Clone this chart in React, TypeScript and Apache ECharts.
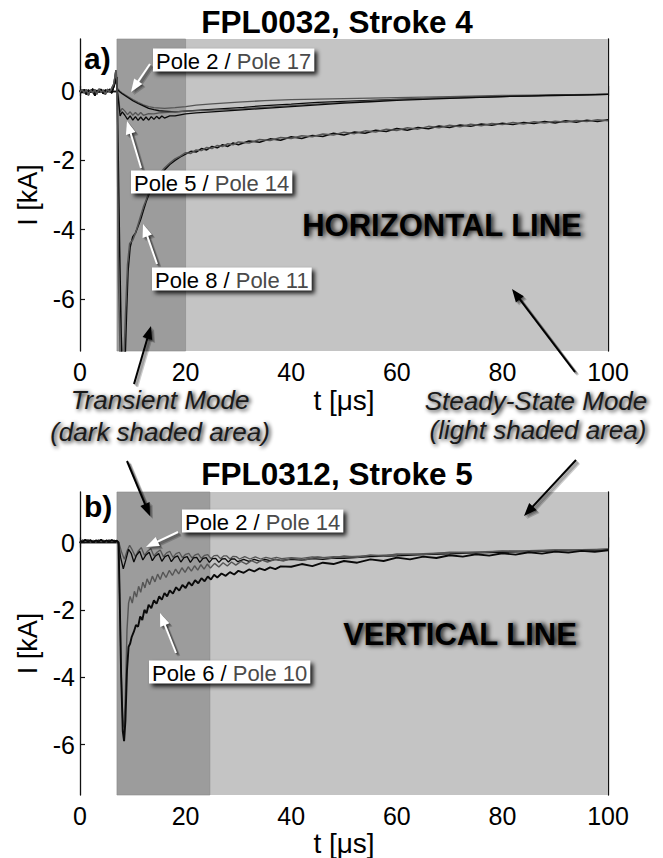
import { useEffect, useRef } from "react";
import * as echarts from "echarts";

const FONT = '"Liberation Sans", Arial, Helvetica, sans-serif';

// ---------- axes ----------
const xMin = 0;
const xMax = 100;
const xInterval = 20;
const yMin = -7.5;
const yMax = 1.5;
const yTicks = [-6, -4, -2, 0];

const titleA = "FPL0032, Stroke 4";
const titleB = "FPL0312, Stroke 5";
const xName = "t [μs]";
const yName = "I [kA]";

// shaded modes [start, end] in μs
const transientA = [7, 20];
const transientB = [7, 24.6];

// ---------- panel a data ----------
const preA_black = [[0,0.02],[0.4,-0.05],[0.8,0.04],[1.2,-0.1],[1.6,0.03],[2,-0.04],[2.4,0.06],[2.8,-0.14],[3.2,0.02],[3.6,-0.03],[4,0.05],[4.4,-0.08],[4.8,0.03],[5.2,-0.02],[5.6,0.05],[6,-0.06],[6.4,0.12],[6.8,0.35]];
const preA_gray = [[0,-0.03],[0.4,0.04],[0.8,-0.06],[1.2,0.05],[1.6,-0.12],[2,0.03],[2.4,-0.05],[2.8,0.04],[3.2,-0.09],[3.6,0.06],[4,-0.04],[4.4,0.03],[4.8,-0.1],[5.2,0.05],[5.6,-0.03],[6,0.08],[6.4,0.2],[6.8,0.6]];

const aPole2 = [[7,0.05],[7.5,-0.02],[8,-0.08],[9,-0.18],[10,-0.28],[11,-0.36],[12,-0.43],[13,-0.5],[14,-0.54],[15,-0.57],[16,-0.58],[18,-0.6],[20,-0.58],[22,-0.56],[25,-0.53],[28,-0.5],[31,-0.47],[35,-0.42],[40,-0.38],[45,-0.33],[50,-0.3],[55,-0.27],[60,-0.24],[65,-0.22],[70,-0.2],[75,-0.18],[80,-0.16],[85,-0.14],[90,-0.12],[95,-0.11],[100,-0.1]];
const aPole17 = [[7,0.1],[7.5,0],[8,-0.06],[9,-0.15],[10,-0.25],[11,-0.33],[12,-0.4],[13,-0.45],[14,-0.48],[16,-0.5],[18,-0.48],[20,-0.45],[22,-0.41],[25,-0.37],[30,-0.32],[35,-0.28],[40,-0.25],[50,-0.22],[60,-0.19],[70,-0.16],[80,-0.13],[90,-0.11],[100,-0.09]];
const aPole5 = [[7,0.1],[7.3,-0.3],[7.6,-0.72],[8,-0.6],[8.5,-0.7],[9,-0.82],[9.5,-0.72],[10,-0.84],[10.5,-0.74],[11,-0.85],[11.5,-0.75],[12,-0.85],[12.5,-0.75],[13,-0.84],[13.5,-0.74],[14,-0.82],[14.5,-0.73],[15,-0.8],[15.5,-0.72],[16,-0.78],[17,-0.72],[18,-0.72],[20,-0.66],[22,-0.63],[25,-0.6],[30,-0.55],[35,-0.5],[40,-0.45],[45,-0.4],[50,-0.35],[55,-0.31],[60,-0.27],[70,-0.21],[80,-0.16],[90,-0.13],[100,-0.1]];
const aPole14 = [[7,0.05],[7.3,-0.2],[7.6,-0.6],[8,-0.5],[8.5,-0.58],[9,-0.68],[9.5,-0.6],[10,-0.7],[10.5,-0.62],[11,-0.7],[11.5,-0.62],[12,-0.7],[13,-0.65],[14,-0.66],[15,-0.63],[16,-0.62],[18,-0.6],[20,-0.58],[25,-0.55],[30,-0.52],[35,-0.47],[40,-0.42],[50,-0.33],[60,-0.25],[70,-0.19],[80,-0.15],[90,-0.12],[100,-0.1]];
const aPole8 = [[7,0.4],[7.2,-1.5],[7.5,-4.5],[7.8,-7],[8.1,-8.3],[8.5,-8],[8.8,-6.5],[9.1,-5.2],[9.5,-4.5],[10,-4.2],[10.5,-4.1],[11,-3.9],[11.5,-3.7],[12,-3.45],[12.5,-3.2],[13,-3.0],[13.5,-2.8],[14,-2.65],[15,-2.45],[16,-2.28],[17,-2.12],[18,-2.0],[19,-1.9],[20,-1.82],[21,-1.74],[22,-1.76],[23,-1.66],[24,-1.7],[25,-1.6],[26,-1.64],[27,-1.55],[28,-1.6],[29,-1.5],[30,-1.55],[32,-1.44],[34,-1.48],[36,-1.38],[38,-1.42],[40,-1.32],[42,-1.37],[44,-1.28],[46,-1.31],[48,-1.22],[50,-1.27],[52,-1.18],[54,-1.22],[56,-1.13],[58,-1.17],[60,-1.08],[62,-1.13],[64,-1.05],[66,-1.09],[68,-1.01],[70,-1.05],[72,-0.98],[74,-1.02],[76,-0.95],[78,-0.99],[80,-0.93],[82,-0.97],[84,-0.91],[86,-0.94],[88,-0.88],[90,-0.92],[92,-0.86],[94,-0.9],[96,-0.84],[98,-0.88],[100,-0.83]];
const aPole11 = [[7,0.3],[7.1,-2],[7.3,-5.5],[7.6,-7.6],[7.9,-8],[8.3,-7.8],[8.6,-6.5],[9,-5],[9.4,-4.4],[10,-4.3],[10.5,-4.1],[11,-3.85],[11.5,-3.6],[12,-3.35],[12.5,-3.15],[13,-2.95],[14,-2.6],[15,-2.4],[16,-2.22],[17,-2.08],[18,-1.96],[19,-1.88],[20,-1.78],[21,-1.8],[22,-1.7],[23,-1.72],[24,-1.63],[25,-1.66],[26,-1.57],[27,-1.6],[28,-1.52],[29,-1.55],[30,-1.47],[32,-1.5],[34,-1.4],[36,-1.43],[38,-1.34],[40,-1.37],[42,-1.29],[44,-1.32],[46,-1.24],[48,-1.27],[50,-1.19],[52,-1.23],[54,-1.15],[56,-1.18],[58,-1.1],[60,-1.14],[62,-1.06],[64,-1.1],[66,-1.02],[68,-1.06],[70,-0.99],[72,-1.03],[74,-0.96],[76,-1.0],[78,-0.94],[80,-0.97],[82,-0.91],[84,-0.95],[86,-0.89],[88,-0.92],[90,-0.87],[92,-0.9],[94,-0.85],[96,-0.88],[98,-0.83],[100,-0.86]];

// ---------- panel b data ----------
const preB_black = [[0,0.05],[0.5,0.02],[1,0.08],[1.5,0.03],[2,0.07],[2.5,0.01],[3,0.06],[3.5,0.03],[4,0.08],[4.5,0.02],[5,0.06],[5.5,0.03],[6,0.07],[6.5,0.04],[7,0.05]];
const preB_gray = [[0,0.02],[0.5,0.07],[1,0.03],[1.5,0.08],[2,0.02],[2.5,0.06],[3,0.02],[3.5,0.07],[4,0.03],[4.5,0.06],[5,0.02],[5.5,0.07],[6,0.03],[6.5,0.06],[7,0.04]];

const bPole2 = [[7.3,-0.05],[7.7,-0.45],[8.2,-0.78],[8.7,-0.5],[9.2,-0.2],[9.7,-0.32],[10.2,-0.58],[10.7,-0.38],[11.3,-0.26],[11.9,-0.52],[12.5,-0.37],[13.1,-0.29],[13.7,-0.54],[14.3,-0.4],[14.9,-0.33],[15.5,-0.56],[16.1,-0.42],[16.7,-0.37],[17.3,-0.57],[17.9,-0.44],[18.5,-0.4],[19.1,-0.58],[19.7,-0.45],[20.3,-0.42],[20.9,-0.59],[21.5,-0.46],[22.1,-0.44],[22.7,-0.59],[23.3,-0.47],[23.9,-0.45],[24.5,-0.59],[25.1,-0.48],[25.7,-0.47],[26.3,-0.59],[26.9,-0.49],[27.5,-0.48],[28.1,-0.58],[28.7,-0.49],[29.3,-0.49],[29.9,-0.57],[31,-0.5],[32,-0.56],[33,-0.5],[34,-0.55],[35,-0.5],[36,-0.54],[37,-0.5],[38,-0.53],[40,-0.5],[42,-0.52],[44,-0.48],[46,-0.5],[48,-0.46],[50,-0.47],[55,-0.42],[60,-0.4],[65,-0.36],[70,-0.34],[75,-0.31],[80,-0.29],[85,-0.27],[90,-0.25],[95,-0.24],[100,-0.22]];
const bPole14 = [[7.4,-0.02],[7.9,-0.3],[8.4,-0.5],[8.9,-0.25],[9.4,-0.08],[9.9,-0.22],[10.5,-0.42],[11.0,-0.26],[11.6,-0.15],[12.2,-0.38],[12.8,-0.26],[13.4,-0.18],[14.0,-0.4],[14.6,-0.29],[15.2,-0.22],[15.8,-0.42],[16.4,-0.31],[17.0,-0.26],[17.6,-0.44],[18.2,-0.33],[18.8,-0.29],[19.4,-0.45],[20.0,-0.35],[20.6,-0.32],[21.2,-0.46],[21.8,-0.37],[22.4,-0.34],[23.0,-0.47],[23.6,-0.38],[24.2,-0.36],[24.8,-0.48],[25.4,-0.39],[26.0,-0.38],[26.6,-0.48],[27.2,-0.4],[27.8,-0.4],[28.4,-0.49],[29.0,-0.41],[29.6,-0.42],[30.2,-0.49],[31.2,-0.42],[32.2,-0.49],[33.2,-0.43],[34.2,-0.49],[35.2,-0.44],[36.2,-0.48],[37.2,-0.44],[38.2,-0.48],[40,-0.45],[42,-0.47],[44,-0.43],[46,-0.45],[48,-0.42],[50,-0.43],[55,-0.39],[60,-0.36],[65,-0.33],[70,-0.3],[75,-0.28],[80,-0.26],[85,-0.24],[90,-0.22],[95,-0.21],[100,-0.2]];
const bPole6 = [[7.3,0],[7.5,-1.5],[7.8,-4],[8.1,-5.6],[8.35,-5.9],[8.6,-5.3],[8.9,-3.8],[9.2,-3.1],[9.5,-3.0],[9.8,-2.8],[10.2,-2.65],[10.6,-2.45],[11.0,-2.5],[11.4,-2.2],[11.8,-2.3],[12.2,-2.0],[12.6,-2.1],[13.0,-1.85],[13.5,-1.95],[14.0,-1.72],[14.5,-1.82],[15.0,-1.6],[15.5,-1.7],[16.0,-1.5],[16.5,-1.6],[17.0,-1.42],[17.6,-1.52],[18.2,-1.33],[18.8,-1.43],[19.4,-1.26],[20.0,-1.35],[20.6,-1.18],[21.2,-1.28],[21.8,-1.12],[22.4,-1.21],[23.0,-1.06],[23.6,-1.15],[24.2,-1.01],[24.8,-1.1],[25.4,-0.96],[26.0,-1.04],[26.8,-0.92],[27.6,-0.99],[28.4,-0.88],[29.2,-0.95],[30,-0.84],[31,-0.9],[32,-0.8],[33,-0.86],[34,-0.77],[35,-0.82],[36,-0.74],[37,-0.79],[38,-0.71],[40,-0.72],[42,-0.64],[44,-0.7],[46,-0.6],[48,-0.64],[50,-0.55],[52.5,-0.6],[55,-0.5],[57.5,-0.55],[60,-0.45],[62.5,-0.5],[65,-0.42],[67.5,-0.46],[70,-0.38],[72.5,-0.42],[75,-0.35],[77.5,-0.39],[80,-0.32],[82.5,-0.36],[85,-0.29],[87.5,-0.33],[90,-0.27],[92.5,-0.3],[95,-0.25],[97.5,-0.28],[100,-0.23]];
const bPole10 = [[7.3,0],[7.5,-1.5],[7.8,-3.8],[8.1,-5.3],[8.35,-5.5],[8.6,-4.5],[8.9,-2.6],[9.2,-1.8],[9.5,-1.6],[9.9,-1.8],[10.3,-1.45],[10.7,-1.62],[11.1,-1.3],[11.5,-1.48],[11.9,-1.18],[12.3,-1.35],[12.7,-1.08],[13.2,-1.25],[13.7,-1.0],[14.2,-1.17],[14.7,-0.94],[15.2,-1.1],[15.7,-0.88],[16.3,-1.04],[16.9,-0.83],[17.5,-0.98],[18.1,-0.79],[18.7,-0.93],[19.3,-0.75],[19.9,-0.89],[20.5,-0.72],[21.1,-0.85],[21.7,-0.69],[22.3,-0.82],[22.9,-0.66],[23.5,-0.79],[24.1,-0.64],[24.7,-0.76],[25.5,-0.62],[26.3,-0.73],[27.1,-0.6],[27.9,-0.7],[28.7,-0.58],[29.5,-0.67],[30.5,-0.56],[31.5,-0.64],[32.5,-0.54],[33.5,-0.61],[34.5,-0.52],[35.5,-0.58],[37,-0.5],[38.5,-0.55],[40,-0.47],[42.5,-0.52],[45,-0.43],[47.5,-0.47],[50,-0.4],[52.5,-0.44],[55,-0.37],[57.5,-0.41],[60,-0.34],[65,-0.36],[70,-0.29],[75,-0.31],[80,-0.25],[85,-0.27],[90,-0.22],[95,-0.24],[100,-0.19]];

// ---------- labels ----------
const poleLabelsA = [["Pole 2 / ", "Pole 17"], ["Pole 5 / ", "Pole 14"], ["Pole 8 / ", "Pole 11"]];
const poleLabelsB = [["Pole 2 / ", "Pole 14"], ["Pole 6 / ", "Pole 10"]];
const lineNameA = "HORIZONTAL LINE";
const lineNameB = "VERTICAL LINE";
const transientText = ["Transient Mode", "(dark shaded area)"];
const steadyText = ["Steady-State Mode", "(light shaded area)"];

const DARK = "#9c9c9c";
const LIGHT = "#c4c4c4";
const BLACK = "#0a0a0a";
const GRAY = "#555555";
const Z = 100;

// ---------- helpers for decorations ----------
function measure(text: string, font: string) {
  const c = document.createElement("canvas");
  const ctx = c.getContext("2d")!;
  ctx.font = font;
  return ctx.measureText(text).width;
}

// blurred drop shadow of a text, as an image (the text itself stays real text)
function textShadow(cx: number, cy: number, text: string, font: string, fontSize: number, blur: number, ox: number, oy: number, alpha: number) {
  const c = document.createElement("canvas");
  const ctx = c.getContext("2d")!;
  ctx.font = font;
  const w = Math.ceil(ctx.measureText(text).width);
  const pad = Math.ceil(blur * 3 + 4);
  c.width = w + 2 * pad;
  c.height = Math.ceil(fontSize * 1.5) + 2 * pad;
  ctx.font = font;
  ctx.filter = `blur(${blur}px)`;
  ctx.fillStyle = `rgba(0,0,0,${alpha})`;
  ctx.textBaseline = "middle";
  ctx.textAlign = "left";
  ctx.fillText(text, pad, c.height / 2);
  return {
    type: "image", z: Z, silent: true,
    x: cx - w / 2 - pad + ox, y: cy - c.height / 2 + oy,
    style: { image: c.toDataURL(), width: c.width, height: c.height },
  };
}

function boxShadow(x: number, y: number, w: number, h: number, blur: number, ox: number, oy: number, alpha: number) {
  const c = document.createElement("canvas");
  const ctx = c.getContext("2d")!;
  const pad = Math.ceil(blur * 3 + 2);
  c.width = Math.ceil(w) + 2 * pad;
  c.height = Math.ceil(h) + 2 * pad;
  ctx.filter = `blur(${blur}px)`;
  ctx.fillStyle = `rgba(0,0,0,${alpha})`;
  ctx.fillRect(pad, pad, w, h);
  return {
    type: "image", z: Z, silent: true,
    x: x - pad + ox, y: y - pad + oy,
    style: { image: c.toDataURL(), width: c.width, height: c.height },
  };
}

function arrow(x1: number, y1: number, x2: number, y2: number, color: string) {
  const dx = x2 - x1, dy = y2 - y1;
  const len = Math.hypot(dx, dy);
  const ux = dx / len, uy = dy / len;
  const hl = 13, hw = 5;
  const bx = x2 - ux * hl, by = y2 - uy * hl;
  const make = (ox: number, oy: number, c: string, w: number) => [
    { type: "line", z: Z, silent: true, shape: { x1: x1 + ox, y1: y1 + oy, x2: bx + ux * 2 + ox, y2: by + uy * 2 + oy }, style: { stroke: c, lineWidth: w } },
    { type: "polygon", z: Z, silent: true, shape: { points: [[x2 + ox, y2 + oy], [bx - uy * hw + ox, by + ux * hw + oy], [bx + uy * hw + ox, by - ux * hw + oy]] }, style: { fill: c } },
  ];
  const out: any[] = [];
  for (const [ox, oy] of [[1, 1], [2, 2], [3, 3]]) out.push(...make(ox, oy, "rgba(0,0,0,0.2)", 2.6));
  out.push(...make(0, 0, color, 2));
  return out;
}

function poleLabel(x: number, y: number, parts: string[]) {
  const fs = 22;
  const font = `${fs}px ${FONT}`;
  const w = measure(parts[0] + parts[1], font) + 6;
  const h = 23;
  return [
    boxShadow(x, y - h / 2, w, h, 2, 3, 3, 0.85),
    { type: "rect", z: Z, silent: true, shape: { x, y: y - h / 2, width: w, height: h }, style: { fill: "#fff" } },
    {
      type: "text", z: Z, silent: true, x: x + 3, y: y + 1,
      style: {
        text: `{a|${parts[0]}}{b|${parts[1]}}`,
        rich: {
          a: { fill: "#000", fontSize: fs, fontFamily: FONT },
          b: { fill: "#4a4a4a", fontSize: fs, fontFamily: FONT },
        },
        align: "left", verticalAlign: "middle",
      },
    },
  ];
}

function shadowedText(x: number, y: number, text: string, font: string, fontSize: number, fill: string, blur: number, ox: number, oy: number) {
  return [
    textShadow(x, y, text, font, fontSize, blur, ox, oy, 0.95),
    { type: "text", z: Z, silent: true, x, y, style: { text, fill, font, align: "center", verticalAlign: "middle" } },
  ];
}

function plainText(x: number, y: number, text: string, font: string, align = "center") {
  return { type: "text", z: Z, silent: true, x, y, style: { text, fill: "#000", font, align, verticalAlign: "middle" } };
}

function xAxes(gridIndex: number, nameGap: number) {
  const common = {
    gridIndex, type: "value", min: xMin, max: xMax, interval: xInterval,
    axisLine: { show: true, lineStyle: { color: "#111", width: 1.3 } },
    axisTick: { show: true, inside: true, length: 5, lineStyle: { color: "#111", width: 1.2 } },
    splitLine: { show: false },
  };
  return [
    {
      ...common, position: "bottom",
      axisLabel: { color: "#000", fontSize: 25, fontFamily: FONT, margin: 8 },
      name: xName, nameLocation: "middle", nameGap,
      nameTextStyle: { color: "#000", fontSize: 28, fontFamily: FONT },
    },
    { ...common, position: "top", axisLabel: { show: false } },
  ];
}

function yAxes(gridIndex: number) {
  const common = {
    gridIndex, type: "value", min: yMin, max: yMax,
    axisLine: { show: true, onZero: false, lineStyle: { color: "#111", width: 1.3 } },
    axisTick: { show: true, inside: true, length: 5, customValues: yTicks, lineStyle: { color: "#111", width: 1.2 } },
    splitLine: { show: false },
  };
  return [
    {
      ...common, position: "left",
      axisLabel: { color: "#000", fontSize: 25, fontFamily: FONT, margin: 5, customValues: yTicks },
      name: yName, nameLocation: "middle", nameGap: 36, nameRotate: 90,
      nameTextStyle: { color: "#000", fontSize: 27, fontFamily: FONT },
    },
    { ...common, position: "right", axisLabel: { show: false } },
  ];
}

function lineSeries(data: number[][], xi: number, yi: number, color: string, width: number, extra: any = {}) {
  return {
    type: "line", data, xAxisIndex: xi, yAxisIndex: yi, showSymbol: false, symbol: "none",
    lineStyle: { color, width }, clip: true, z: 3, silent: true, ...extra,
  };
}

function shade(range: number[]) {
  return {
    silent: true,
    data: [
      [{ xAxis: range[0], itemStyle: { color: LIGHT } }, { xAxis: xMax }],
      [{ xAxis: range[0], itemStyle: { color: DARK, borderColor: "#8a8a8a", borderWidth: 0.6 } }, { xAxis: range[1] }],
    ],
  };
}

export default function App() {
  const ref = useRef<HTMLDivElement>(null);
  useEffect(() => {
    const chart = echarts.init(ref.current!, null, { renderer: "svg" });
    const bigFont = `bold 31px ${FONT}`;
    const itFont = `italic 26px ${FONT}`;
    const titleFont = `bold 31.5px ${FONT}`;
    const graphic: any[] = [
      plainText(337, 22, titleA, titleFont),
      plainText(337, 474, titleB, titleFont),
      plainText(84, 58, "a)", `bold 30px ${FONT}`, "left"),
      plainText(84, 506, "b)", `bold 30px ${FONT}`, "left"),
      ...shadowedText(442, 225, lineNameA, bigFont, 31, "#000", 2.5, 3, 3),
      ...shadowedText(460, 634, lineNameB, bigFont, 31, "#000", 2.5, 3, 3),
      ...shadowedText(160, 400, transientText[0], itFont, 26, "#1a1a1a", 2, 2, 3),
      ...shadowedText(160, 432, transientText[1], itFont, 26, "#1a1a1a", 2, 2, 3),
      ...shadowedText(536, 401, steadyText[0], itFont, 26, "#1a1a1a", 2, 2, 3),
      ...shadowedText(538, 430, steadyText[1], itFont, 26, "#1a1a1a", 2, 2, 3),
      ...arrow(150, 64, 131, 92, "#fff"),
      ...arrow(141, 168, 127, 121, "#fff"),
      ...arrow(157, 264, 143, 224, "#fff"),
      ...arrow(178, 532, 146, 547, "#fff"),
      ...arrow(176, 653, 160, 613, "#fff"),
      ...arrow(134, 384, 151, 326, "#000"),
      ...arrow(575, 372, 512, 289, "#000"),
      ...arrow(127, 461, 150, 516, "#000"),
      ...arrow(576, 460, 524, 516, "#000"),
      ...poleLabel(153, 60, poleLabelsA[0]),
      ...poleLabel(131, 182, poleLabelsA[1]),
      ...poleLabel(152, 279, poleLabelsA[2]),
      ...poleLabel(182, 521, poleLabelsB[0]),
      ...poleLabel(149, 672, poleLabelsB[1]),
    ];
    const option: any = {
      animation: false,
      backgroundColor: "#fff",
      grid: [
        { left: 80, top: 39, width: 528, height: 312 },
        { left: 80, top: 492, width: 528, height: 305 },
      ],
      xAxis: [...xAxes(0, 35), ...xAxes(1, 34)],
      yAxis: [...yAxes(0), ...yAxes(1)],
      series: [
        lineSeries(preA_gray.concat(aPole17), 0, 0, GRAY, 1.3, { markArea: shade(transientA) }),
        lineSeries(preA_black.concat(aPole2), 0, 0, BLACK, 1.3),
        lineSeries(preA_gray.concat(aPole14), 0, 0, GRAY, 1.3),
        lineSeries(preA_black.concat(aPole5), 0, 0, BLACK, 1.3),
        lineSeries(preA_black.concat(aPole8), 0, 0, BLACK, 1.5),
        lineSeries(preA_gray.concat(aPole11), 0, 0, GRAY, 1.5),
        lineSeries(preB_gray.concat(bPole14), 2, 2, GRAY, 1.3, { markArea: shade(transientB) }),
        lineSeries(preB_black.concat(bPole2), 2, 2, BLACK, 1.3),
        lineSeries(preB_gray.concat(bPole10), 2, 2, GRAY, 1.4),
        lineSeries(preB_black.concat(bPole6), 2, 2, BLACK, 1.9),
      ],
      graphic,
    };
    chart.setOption(option);
    return () => chart.dispose();
  }, []);
  return (
    <div
      ref={ref}
      style={{ position: "absolute", left: 0, top: 0, width: 663, height: 858, background: "#fff" }}
    />
  );
}
